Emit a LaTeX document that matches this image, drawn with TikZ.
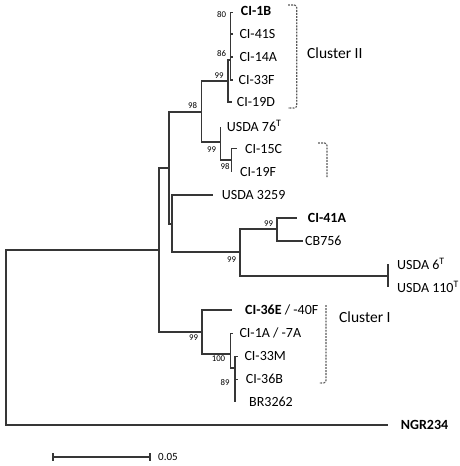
\documentclass[tikz,border=0pt]{standalone}
\usepackage{fontspec}
\setmainfont{Carlito}
\definecolor{linec}{HTML}{363636}
\definecolor{dashc}{HTML}{5A5A5A}
\begin{document}
\begin{tikzpicture}[x=1pt,y=-1pt,
  br/.style={draw=linec, line width=1.2pt},
  lf/.style={anchor=west, inner sep=0pt, font=\fontsize{14}{16}\selectfont},
  lfb/.style={anchor=west, inner sep=0pt, font=\fontsize{14}{16}\selectfont\bfseries},
  bs/.style={inner sep=0pt, font=\fontsize{8.8}{10}\selectfont},
  cltext/.style={anchor=west, inner sep=0pt, font=\fontsize{15.5}{17}\selectfont},
  brk/.style={draw=dashc, line width=1.1pt, dash pattern=on 1.9pt off 1.2pt, rounded corners=2.5pt},
  ]
\useasboundingbox (0,0) rectangle (459,466);
% internal nodes
\coordinate (R) at (6,337);
\coordinate (A) at (159,250);
\coordinate (B) at (169,168);
\coordinate (C) at (172,224);
\coordinate (D) at (201.5,112);
\coordinate (E) at (228,81);
\coordinate (F) at (230.7,60);
\coordinate (G) at (220.5,142);
\coordinate (H) at (231.7,160);
\coordinate (I) at (240,252);
\coordinate (J) at (277,229);
\coordinate (K) at (388,276);
\coordinate (L) at (202,332);
\coordinate (M) at (230.7,354);
\coordinate (N) at (235,368);
% tips
\coordinate (t1) at (233.3,12.5);
\coordinate (t2) at (233.3,34);
\coordinate (t3) at (233.3,57);
\coordinate (t4) at (233.3,80);
\coordinate (t5) at (231.5,102);
\coordinate (t6) at (220.5,126.5);
\coordinate (t7) at (237.3,148.5);
\coordinate (t8) at (231.7,172);
\coordinate (t9) at (212.7,195);
\coordinate (t10) at (296.7,218);
\coordinate (t11) at (303,241);
\coordinate (t12) at (388,264);
\coordinate (t13) at (388,287);
\coordinate (t14) at (231.7,310);
\coordinate (t15) at (233.3,333.3);
\coordinate (t16) at (237.7,356.5);
\coordinate (t17) at (237.7,379.5);
\coordinate (t18) at (235,402);
\coordinate (t19) at (388.3,425);
% branches
\draw[br] (R) |- (A);  \draw[br] (R) |- (t19);
\draw[br] (A) |- (B);  \draw[br] (A) |- (L);
\draw[br] (B) |- (D);  \draw[br] (B) |- (C);
\draw[br] (C) |- (t9); \draw[br] (C) |- (I);
\draw[br] (D) |- (E);  \draw[br] (D) |- (G);
\draw[br] (E) |- (F);  \draw[br] (E) |- (t5);
\draw[br] (F) |- (t1); \draw[br] (F) |- (t2); \draw[br] (F) |- (t3); \draw[br] (F) |- (t4);
\draw[br] (G) |- (t6); \draw[br] (G) |- (H);
\draw[br] (H) |- (t7); \draw[br] (H) |- (t8);
\draw[br] (I) |- (J);  \draw[br] (I) |- (K);
\draw[br] (J) |- (t10); \draw[br] (J) |- (t11);
\draw[br] (K) |- (t12); \draw[br] (K) |- (t13);
\draw[br] (L) |- (t14); \draw[br] (L) |- (M);
\draw[br] (M) |- (t15); \draw[br] (M) |- (N);
\draw[br] (N) |- (t16); \draw[br] (N) |- (t17); \draw[br] (N) |- (t18);
% leaf labels
\node[lfb] (n1) at (240.7,11) {CI-1B};
\node[lf] (n2) at (239.3,34) {CI-41S};
\node[lf] (n3) at (239.3,57) {CI-14A};
\node[lf] (n4) at (238.5,80) {CI-33F};
\node[lf] (n5) at (236.7,102) {CI-19D};
\node[lf] (n6) at (226.7,126) {USDA 76\textsuperscript{T}};
\node[lf] (n7) at (245,149) {CI-15C};
\node[lf] (n8) at (240,172) {CI-19F};
\node[lf] (n9) at (221.7,195) {USDA 3259};
\node[lfb] (n10) at (307.7,218) {CI-41A};
\node[lf] (n11) at (305,241) {CB756};
\node[lf] (n12) at (397,264) {USDA 6\textsuperscript{T}};
\node[lf] (n13) at (397,287) {USDA 110\textsuperscript{T}};
\node[lf] (n14) at (245,310) {\textbf{CI-36E} / -40F};
\node[lf] (n15) at (239.3,333) {CI-1A / -7A};
\node[lf] (n16) at (244.3,356) {CI-33M};
\node[lf] (n17) at (245.7,379) {CI-36B};
\node[lf] (n18) at (249,402) {BR3262};
\node[lfb] (n19) at (400.7,425) {NGR234};
% bootstrap values
\node[bs] (b1) at (221.7,15) {80};
\node[bs] (b2) at (221.7,53.3) {86};
\node[bs] (b3) at (219,76) {99};
\node[bs] (b4) at (192.5,106) {98};
\node[bs] (b5) at (211.7,150) {99};
\node[bs] (b6) at (225,166.7) {98};
\node[bs] (b7) at (268.5,223.5) {99};
\node[bs] (b8) at (231.5,260) {99};
\node[bs] (b9) at (193.5,338) {99};
\node[bs] (b10) at (218.5,359) {100};
\node[bs] (b11) at (225,383) {89};
% cluster brackets
\coordinate (c2a) at (288,5);
\coordinate (c2b) at (296.7,5);
\coordinate (c2c) at (296.7,108);
\coordinate (c2d) at (288,108);
\draw[brk] (c2a) -- (c2b) -- (c2c) -- (c2d);
\coordinate (c3a) at (318,143);
\coordinate (c3b) at (327,143);
\coordinate (c3c) at (327,177);
\draw[brk] (c3a) -- (c3b) -- (c3c);
\coordinate (c1a) at (326,305);
\coordinate (c1b) at (326,383);
\coordinate (c1c) at (319,383);
\draw[brk] (c1a) -- (c1b) -- (c1c);
\node[cltext] (cl2) at (307,53) {Cluster II};
\node[cltext] (cl1) at (339,317) {Cluster I};
% scale bar
\coordinate (s1) at (53,457);
\coordinate (s2) at (150,457);
\draw[br] (s1) -- (s2);
\draw[br] ([yshift=4pt]s1) -- ([yshift=-4pt]s1);
\draw[br] ([yshift=4pt]s2) -- ([yshift=-4pt]s2);
\node[anchor=west, inner sep=0pt, font=\fontsize{11}{13}\selectfont] (sl) at (158,457) {0.05};
\end{tikzpicture}
\end{document}
